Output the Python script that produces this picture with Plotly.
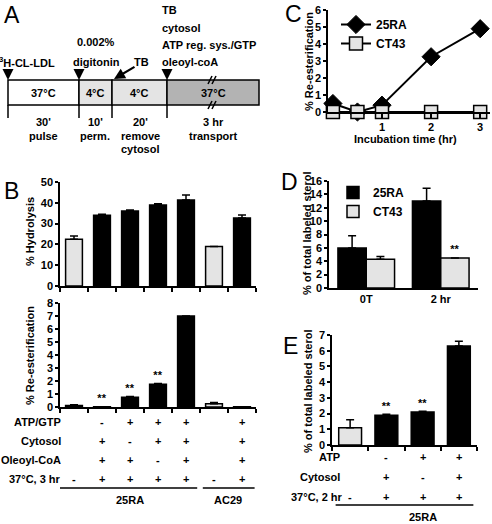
import plotly.graph_objects as go

W, H = 492, 524
def X(px): return px / W
def Y(py): return 1 - py / H

FONT = "Liberation Sans, Arial, sans-serif"
GRAY = "#e4e4e4"
DARK = "#b3b3b3"

# ---------------- data ----------------
b_positions = [0, 1, 2, 3, 4, 5, 6]
b_hydrolysis = [22.5, 34.0, 36.0, 39.0, 41.3, 19.0, 32.7]
b_hydrolysis_err = [1.5, 0.5, 0.5, 0.5, 2.4, 0.0, 1.4]
b_reester = [0.12, 0.02, 0.75, 1.75, 7.0, 0.25, 0.02]
b_reester_err = [0.05, 0.0, 0.05, 0.06, 0.0, 0.1, 0.0]
b_colors = [GRAY, "black", "black", "black", "black", GRAY, "black"]
b_stars = ["", "**", "**", "**", "", "", ""]
b_rows = ["ATP/GTP", "Cytosol", "Oleoyl-CoA", "37°C, 3 hr"]
b_table = [
    ["", "-", "+", "+", "+", "", "+"],
    ["", "+", "-", "+", "+", "", "+"],
    ["", "+", "+", "-", "+", "", "+"],
    ["-", "+", "+", "+", "+", "-", "+"],
]
c_time = [0, 0.5, 1, 2, 3]
c_25ra = [0.5, 0.0, 0.4, 3.25, 4.9]
c_25ra_err = [0.2, 0.0, 0.1, 0.15, 0.25]
c_ct43 = [0.0, 0.0, 0.0, 0.0, 0.0]
d_groups = ["0T", "2 hr"]
d_25ra = [6.0, 13.0]
d_25ra_err = [1.8, 1.9]
d_ct43 = [4.3, 4.5]
d_ct43_err = [0.4, 0.0]
e_positions = [0, 1, 2, 3]
e_values = [1.1, 1.9, 2.1, 6.3]
e_err = [0.5, 0.05, 0.05, 0.3]
e_colors = [GRAY, "black", "black", "black"]
e_stars = ["", "**", "**", ""]
e_rows = ["ATP", "Cytosol", "37°C, 2 hr"]
e_table = [
    ["", "-", "+", "+"],
    ["", "+", "-", "+"],
    ["-", "+", "+", "+"],
]

fig = go.Figure()
bold = dict(family=FONT, size=11, color="black", weight="bold")

def errs(arr):
    return dict(type="data", array=arr, arrayminus=[0] * len(arr), symmetric=False,
                color="black", thickness=1.5, width=4)

fig.add_trace(go.Bar(x=b_positions, y=b_hydrolysis, width=0.6, marker=dict(color=b_colors, line=dict(color="black", width=1.5)),
                     error_y=errs(b_hydrolysis_err), xaxis="x", yaxis="y", showlegend=False))
fig.add_trace(go.Bar(x=b_positions, y=b_reester, width=0.6, marker=dict(color=b_colors, line=dict(color="black", width=1.5)),
                     error_y=errs(b_reester_err), xaxis="x2", yaxis="y2", showlegend=False,
                     text=b_stars, textposition="outside", cliponaxis=False, textfont=bold))
fig.add_trace(go.Scatter(x=c_time, y=c_25ra, mode="lines+markers", name="25RA",
                         line=dict(color="black", width=2),
                         marker=dict(symbol="diamond", size=14, color="black", line=dict(color="black", width=1)),
                         error_y=errs(c_25ra_err), xaxis="x3", yaxis="y3", cliponaxis=False, legend="legend"))
fig.add_trace(go.Scatter(x=c_time, y=c_ct43, mode="lines+markers", name="CT43",
                         line=dict(color="black", width=2),
                         marker=dict(symbol="square", size=13, color=GRAY, line=dict(color="black", width=1.5)),
                         xaxis="x3", yaxis="y3", cliponaxis=False, legend="legend"))
fig.add_trace(go.Bar(x=d_groups, y=d_25ra, name="25RA", width=0.38, offset=-0.38,
                     marker=dict(color="black", line=dict(color="black", width=1.5)),
                     error_y=errs(d_25ra_err), xaxis="x4", yaxis="y4", legend="legend2"))
fig.add_trace(go.Bar(x=d_groups, y=d_ct43, name="CT43", width=0.38, offset=0,
                     marker=dict(color=GRAY, line=dict(color="black", width=1.5)),
                     error_y=errs(d_ct43_err), xaxis="x4", yaxis="y4", legend="legend2",
                     text=["", "**"], textposition="outside", cliponaxis=False, textfont=bold))
fig.add_trace(go.Bar(x=e_positions, y=e_values, width=0.63, marker=dict(color=e_colors, line=dict(color="black", width=1.5)),
                     error_y=errs(e_err), xaxis="x5", yaxis="y5", showlegend=False,
                     text=e_stars, textposition="outside", cliponaxis=False, textfont=bold))

def tf(color="black"):
    return dict(family=FONT, size=11, color=color, weight="bold")
def yax(domain, rng, dtick, anchor):
    return dict(domain=domain, range=rng, dtick=dtick, tick0=0, anchor=anchor, showline=True, linecolor="black",
                linewidth=1.5, ticks="outside", ticklen=3, tickwidth=1.5, tickcolor="black",
                showgrid=False, zeroline=False, tickfont=tf(), fixedrange=True, showticklabels=True,
                ticklabeloverflow="allow", automargin=False)
def xax(domain, rng, anchor, **kw):
    d = dict(domain=domain, range=rng, anchor=anchor, showline=True, linecolor="black",
             linewidth=1.5, showgrid=False, zeroline=False, tickfont=tf(), tickcolor="black",
             tickwidth=1.5, fixedrange=True, automargin=False, ticklabeloverflow="allow")
    d.update(kw)
    return d

bnd7 = [i - 0.5 for i in range(8)]
bnd4 = [i - 0.5 for i in range(5)]
fig.update_layout(
    width=W, height=H, margin=dict(l=0, r=0, t=0, b=0),
    paper_bgcolor="white", plot_bgcolor="rgba(0,0,0,0)",
    font=dict(family=FONT, size=11, color="black"),
    xaxis=xax([X(60), X(256)], [-0.5, 6.5], "y", tickvals=bnd7, ticktext=[""] * 8, ticks="outside", ticklen=4),
    yaxis=yax([Y(286), Y(182)], [0, 50], 10, "x"),
    xaxis2=xax([X(60), X(256)], [-0.5, 6.5], "y2", tickvals=bnd7, ticktext=[""] * 8, ticks="outside", ticklen=4),
    yaxis2=yax([Y(407), Y(303)], [0, 8], 1, "x2"),
    xaxis3=xax([X(328), X(490)], [-0.1, 3.2], "y3", tickvals=[1, 2, 3], ticks="outside", ticklen=4),
    yaxis3=yax([Y(112), Y(10)], [0, 6], 1, "x3"),
    xaxis4=xax([X(329), X(478)], [-0.5, 1.5], "y4", type="category", ticks=""),
    yaxis4=yax([Y(288), Y(181)], [0, 16], 2, "x4"),
    xaxis5=xax([X(332), X(477)], [-0.5, 3.5], "y5", tickvals=bnd4, ticktext=[""] * 5, ticks="outside", ticklen=4),
    yaxis5=yax([Y(445), Y(335)], [0, 7], 1, "x5"),
    legend=dict(x=X(336), y=Y(10), xanchor="left", yanchor="top", bgcolor="rgba(0,0,0,0)",
                font=dict(family=FONT, size=12, color="black", weight="bold"), tracegroupgap=0, itemwidth=30),
    legend2=dict(x=X(333), y=Y(178), xanchor="left", yanchor="top", bgcolor="rgba(0,0,0,0)",
                 font=dict(family=FONT, size=12, color="black", weight="bold"), tracegroupgap=0, itemwidth=30),
)

ann = []
shapes = []
def txt(x, y, s, xa="center", font=None, **kw):
    a = dict(x=X(x), y=Y(y), xref="paper", yref="paper", text=s, showarrow=False, xanchor=xa,
             yanchor="middle", font=font or bold)
    a.update(kw)
    ann.append(a)

letter = dict(family=FONT, size=23, color="black")
txt(2, 15, "A", xa="left", font=letter)
txt(2, 191, "B", xa="left", font=letter)
txt(283, 14, "C", xa="left", font=letter)
txt(279, 182, "D", xa="left", font=letter)
txt(281, 346, "E", xa="left", font=letter)

box_top, box_bot = 80, 105
segs = [(8, 79, "white", "37°C"), (79, 112, GRAY, "4°C"), (112, 167, GRAY, "4°C"), (167, 259, DARK, "37°C")]
for x0, x1, col, lab in segs:
    shapes.append(dict(type="rect", xref="paper", yref="paper", x0=X(x0), x1=X(x1), y0=Y(box_bot), y1=Y(box_top),
                       fillcolor=col, line=dict(color="black", width=1.5), layer="below"))
    txt((x0 + x1) / 2 if x1 < 250 else 213, 93, lab)
for xv in [8, 79, 112, 167]:
    shapes.append(dict(type="line", xref="paper", yref="paper", x0=X(xv), x1=X(xv), y0=Y(105), y1=Y(118),
                       line=dict(color="black", width=1.5)))
for yb in [box_top, box_bot]:
    for dx in [-3, 1]:
        shapes.append(dict(type="line", xref="paper", yref="paper", x0=X(211 + dx), x1=X(215 + dx),
                           y0=Y(yb + 4), y1=Y(yb - 4), line=dict(color="black", width=1.5)))
txt(43, 122, "30'"); txt(43, 136, "pulse")
txt(95, 122, "10'"); txt(95, 136, "perm.")
txt(140, 122, "20'"); txt(140, 136, "remove"); txt(140, 149, "cytosol")
txt(213, 122, "3 hr"); txt(213, 136, "transport")
txt(57, 62, "<sup>3</sup>H-CL-LDL", xa="right")
txt(96, 42, "0.002%"); txt(96, 62, "digitonin")
txt(141, 62, "TB")
for i, s in enumerate(["TB", "cytosol", "ATP reg. sys./GTP", "oleoyl-coA"]):
    txt(160, 10 + 17.5 * i, s, xa="left")
def arrow(xt, yt, ax, ay):
    ann.append(dict(x=X(xt), y=Y(yt), xref="paper", yref="paper", text="", showarrow=True,
                    ax=ax, ay=ay, arrowhead=2, arrowsize=1, arrowwidth=2.2, arrowcolor="black"))
arrow(8, 80, 0, -12)
arrow(79, 80, 0, -12)
arrow(167, 80, 0, -12)
arrow(114, 79, 22, -13)

txt(30, 232, "% Hydrolysis", textangle=-90)
txt(30, 356, "% Re-esterification", textangle=-90)
row_y = [422, 441, 460, 479]
for r, (lab, vals) in enumerate(zip(b_rows, b_table)):
    txt(63, row_y[r], lab, xa="right")
    for i, v in enumerate(vals):
        if v:
            ann.append(dict(x=b_positions[i], y=Y(row_y[r]), xref="x2", yref="paper", text=v, showarrow=False,
                            yanchor="middle", font=bold))
shapes.append(dict(type="line", xref="x2", yref="paper", x0=-0.5, x1=4.4, y0=Y(488), y1=Y(488), line=dict(color="black", width=1.5)))
shapes.append(dict(type="line", xref="x2", yref="paper", x0=4.6, x1=6.45, y0=Y(488), y1=Y(488), line=dict(color="black", width=1.5)))
ann.append(dict(x=2, y=Y(500), xref="x2", yref="paper", text="25RA", showarrow=False, yanchor="middle", font=bold))
ann.append(dict(x=5.5, y=Y(500), xref="x2", yref="paper", text="AC29", showarrow=False, yanchor="middle", font=bold))

txt(309, 62, "% Re-esterification", textangle=-90)
txt(405, 139, "Incubation time (hr)")
txt(307, 234, "% of total labeled sterol", textangle=-90)
txt(308, 392, "% of total labeled sterol", textangle=-90)
erow_y = [457, 477, 497]
for r, (lab, vals) in enumerate(zip(e_rows, e_table)):
    txt(342 if r < 2 else 345, erow_y[r], lab, xa="right")
    for i, v in enumerate(vals):
        if v:
            ann.append(dict(x=e_positions[i], y=Y(erow_y[r]), xref="x5", yref="paper", text=v, showarrow=False,
                            yanchor="middle", font=bold))
shapes.append(dict(type="line", xref="x5", yref="paper", x0=-0.4, x1=3.4, y0=Y(505), y1=Y(505), line=dict(color="black", width=1.5)))
ann.append(dict(x=2, y=Y(517), xref="x5", yref="paper", text="25RA", showarrow=False, yanchor="middle", font=bold))

fig.update_layout(annotations=ann, shapes=shapes)
fig.write_html("out.html", config={"displayModeBar": False},
               post_script="document.body.style.margin='0px';document.body.style.padding='0px';")
